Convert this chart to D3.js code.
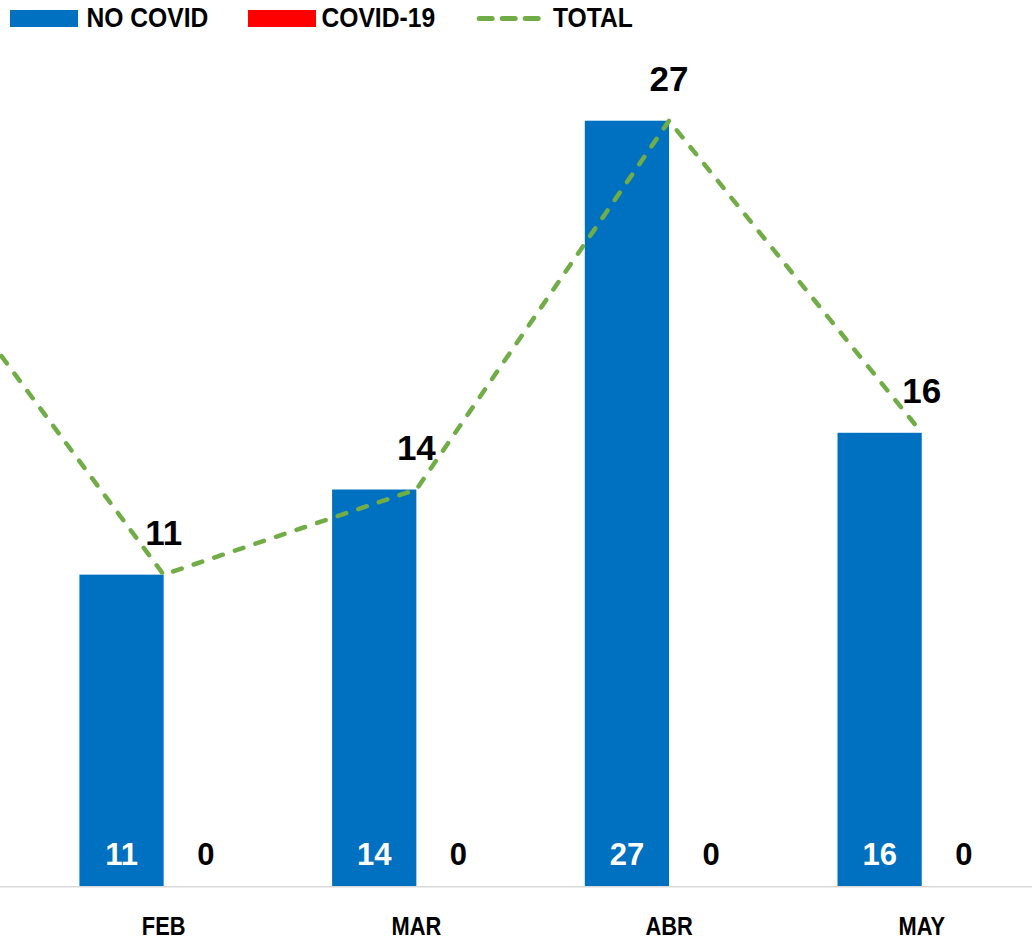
<!DOCTYPE html>
<html>
<head>
<meta charset="utf-8">
<script src="https://cdn.jsdelivr.net/npm/d3@7"></script>
<style>
  html, body { margin: 0; padding: 0; background: #ffffff; }
  svg { display: block; }
</style>
</head>
<body>
<svg id="chart" width="1032" height="940"></svg>
<script>
// ---- data (ENE lies just off the left edge) ----
const months = ["ENE", "FEB", "MAR", "ABR", "MAY"];
const noCovid = [23, 11, 14, 27, 16];
const covid19 = [0, 0, 0, 0, 0];
const total = [23, 11, 14, 27, 16];
const seriesNames = ["NO COVID", "COVID-19", "TOTAL"];
const yMax = 30;

// ---- styles ----
const BLUE = "#0070C0", RED = "#FF0000", GREEN = "#70AD47", AXIS = "#D9D9D9";
const FONT = "'Liberation Sans', Arial, sans-serif";

const W = 1032, H = 940;
const svg = d3.select("#chart");

const x = d3.scaleBand().domain(months).range([-215.4, 1048.1]).padding(0);
const bw = x.bandwidth();
const xs = d3.scaleBand().domain(seriesNames.slice(0, 2)).range([bw / 6, bw * 5 / 6]).padding(0);
const y = d3.scaleLinear().domain([0, yMax]).range([886.7, 35.6]);

const rows = months.map((m, i) => ({ m, nc: noCovid[i], c: covid19[i], t: total[i] }));
const visible = r => x(r.m) + bw / 2 >= 0 && x(r.m) + bw / 2 <= W;

// bars
const g = svg.append("g");
rows.forEach(r => {
  g.append("rect")
    .attr("x", x(r.m) + xs("NO COVID")).attr("width", xs.bandwidth())
    .attr("y", y(r.nc)).attr("height", y(0) - y(r.nc))
    .attr("fill", BLUE);
  g.append("rect")
    .attr("x", x(r.m) + xs("COVID-19")).attr("width", xs.bandwidth())
    .attr("y", y(r.c)).attr("height", y(0) - y(r.c))
    .attr("fill", RED);
});

// axis
const xAxis = d3.axisBottom(x).tickSize(0).tickPadding(0);
const axG = svg.append("g").attr("transform", `translate(0,${y(0)})`).call(xAxis);
axG.select(".domain").remove();
axG.selectAll(".tick").filter(m => x(m) + bw / 2 < 0).remove();
axG.append("line").attr("x1", 0).attr("x2", W).attr("y1", 0).attr("y2", 0)
  .attr("stroke", AXIS).attr("stroke-width", 1.5);
axG.selectAll(".tick text")
  .attr("y", null).attr("dy", null)
  .attr("transform", "translate(0,48.5) scale(0.84,1)")
  .attr("font-family", FONT).attr("font-weight", "bold").attr("font-size", 26)
  .attr("fill", "#000");

// bar labels (inside base)
rows.filter(visible).forEach(r => {
  g.append("text")
    .attr("x", x(r.m) + xs("NO COVID") + xs.bandwidth() / 2).attr("y", y(0) - 21.5)
    .attr("text-anchor", "middle").attr("font-family", FONT).attr("font-weight", "bold")
    .attr("font-size", 31).attr("fill", "#fff").text(r.nc);
  g.append("text")
    .attr("x", x(r.m) + xs("COVID-19") + xs.bandwidth() / 2).attr("y", y(0) - 21.5)
    .attr("text-anchor", "middle").attr("font-family", FONT).attr("font-weight", "bold")
    .attr("font-size", 31).attr("fill", "#000").text(r.c);
});

// total line
const line = d3.line().x(d => x(d.m) + bw / 2).y(d => y(d.t));
svg.append("path").datum(rows).attr("d", line)
  .attr("fill", "none").attr("stroke", GREEN).attr("stroke-width", 4.5)
  .attr("stroke-dasharray", "9,12.7").attr("stroke-linecap", "round")
  .attr("stroke-linejoin", "round");

rows.filter(visible).forEach(r => {
  svg.append("text")
    .attr("x", x(r.m) + bw / 2).attr("y", y(r.t) - 30)
    .attr("text-anchor", "middle").attr("font-family", FONT).attr("font-weight", "bold")
    .attr("font-size", 35).attr("fill", "#000").text(r.t);
});

// legend
const lg = svg.append("g");
const legendItems = [
  { name: seriesNames[0], type: "rect", color: BLUE, sx: 10, tx: 86.5 },
  { name: seriesNames[1], type: "rect", color: RED, sx: 248, tx: 321.5 },
  { name: seriesNames[2], type: "line", color: GREEN, sx: 476.7, tx: 553 }
];
legendItems.forEach(it => {
  if (it.type === "rect") {
    lg.append("rect").attr("x", it.sx).attr("y", 10).attr("width", 68).attr("height", 17)
      .attr("fill", it.color);
  } else {
    lg.append("line").attr("x1", it.sx + 2.5).attr("x2", it.sx + 63).attr("y1", 18.5).attr("y2", 18.5)
      .attr("stroke", it.color).attr("stroke-width", 5).attr("stroke-linecap", "round")
      .attr("stroke-dasharray", "13,10");
  }
  lg.append("text").attr("transform", `translate(${it.tx},27.3) scale(0.88,1)`)
    .attr("font-family", FONT).attr("font-weight", "bold").attr("font-size", 28)
    .attr("fill", "#000").text(it.name);
});
</script>
</body>
</html>
